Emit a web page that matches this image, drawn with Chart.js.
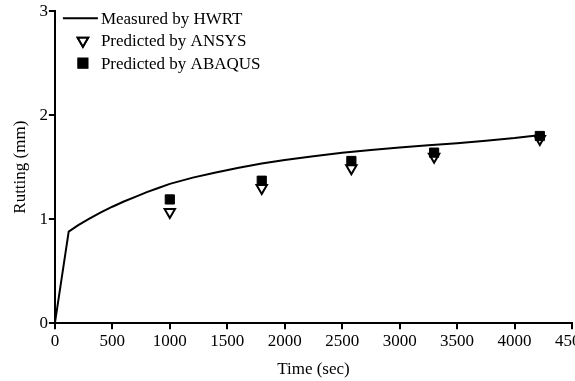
<!DOCTYPE html>
<html>
<head>
<meta charset="utf-8">
<script src="https://cdn.jsdelivr.net/npm/chart.js@4/dist/chart.umd.min.js"></script>
<style>
  html, body { margin: 0; padding: 0; background: #fff; overflow: hidden; }
  #wrap { width: 591px; height: 381px; position: relative; }
</style>
</head>
<body>
<div id="wrap"><canvas id="c"></canvas></div>
<script>
// measured curve (HWRT)
const hwrtTime = [0, 120, 200, 300, 400, 500, 600, 700, 800, 900, 1000, 1200, 1400, 1600, 1800, 2000,
  2250, 2500, 2750, 3000, 3250, 3500, 3750, 4000, 4230];
const hwrtRut = [0, 0.88, 0.94, 1.005, 1.065, 1.12, 1.17, 1.215, 1.26, 1.30, 1.34, 1.40, 1.45, 1.495, 1.535, 1.57,
  1.605, 1.64, 1.665, 1.69, 1.71, 1.73, 1.755, 1.78, 1.81];

// predictions
const predTime = [1000, 1800, 2580, 3300, 4220];
const ansysRut = [1.07, 1.30, 1.49, 1.60, 1.77];
const abaqusRut = [1.19, 1.37, 1.56, 1.64, 1.80];

const xTicks = [0, 500, 1000, 1500, 2000, 2500, 3000, 3500, 4000, 4500];
const yTicks = [0, 1, 2, 3];

const FONT = "'Liberation Serif', 'Times New Roman', serif";

const pts = (xs, ys) => xs.map((x, i) => ({ x: x, y: ys[i] }));

// legend drawn inside the plot, top-left
const innerLegend = {
  id: 'innerLegend',
  afterDraw(chart) {
    const ctx = chart.ctx;
    const x0 = chart.chartArea.left;
    const y0 = chart.chartArea.top;
    const items = chart.data.datasets.slice().sort((a, b) => a.legendIdx - b.legendIdx);
    ctx.save();
    ctx.font = '17px ' + FONT;
    ctx.fillStyle = '#000';
    ctx.textBaseline = 'middle';
    items.forEach((ds, i) => {
      const y = y0 + 7 + i * 22.5;
      if (ds.showLine) {
        ctx.strokeStyle = '#000';
        ctx.lineWidth = 2;
        ctx.beginPath();
        ctx.moveTo(x0 + 8, y);
        ctx.lineTo(x0 + 43, y);
        ctx.stroke();
      } else {
        Chart.helpers.drawPoint(ctx, {
          pointStyle: ds.pointStyle, radius: ds.pointRadius,
          rotation: ds.pointRotation, borderWidth: ds.borderWidth
        }, x0 + 28, y);
        ctx.fillStyle = ds.pointBackgroundColor;
        ctx.strokeStyle = '#000';
        ctx.lineWidth = ds.borderWidth;
        ctx.fill();
        ctx.stroke();
        ctx.fillStyle = '#000';
      }
      ctx.fillText(ds.label, x0 + 46, y + 1);
    });
    ctx.restore();
  }
};

new Chart(document.getElementById('c'), {
  type: 'scatter',
  data: {
    datasets: [
      {
        label: 'Measured by HWRT',
        legendIdx: 0,
        data: pts(hwrtTime, hwrtRut),
        showLine: true,
        borderColor: '#000',
        borderWidth: 2,
        pointRadius: 0,
        tension: 0,
        order: 3
      },
      {
        label: 'Predicted by ANSYS',
        legendIdx: 1,
        data: pts(predTime, ansysRut),
        pointStyle: 'triangle',
        pointRotation: 180,
        pointRadius: 6,
        pointBackgroundColor: '#fff',
        pointBorderColor: '#000',
        borderWidth: 2,
        order: 2
      },
      {
        label: 'Predicted by ABAQUS',
        legendIdx: 2,
        data: pts(predTime, abaqusRut),
        pointStyle: 'rect',
        pointRadius: 6.5,
        pointBackgroundColor: '#000',
        pointBorderColor: '#000',
        borderWidth: 1,
        order: 1
      }
    ]
  },
  options: {
    responsive: true,
    maintainAspectRatio: false,
    animation: false,
    layout: { padding: { top: 1, left: 6, bottom: 4 } },
    plugins: { legend: { display: false }, tooltip: { enabled: false } },
    scales: {
      x: {
        type: 'linear',
        min: 0, max: 4500,
        afterBuildTicks: (s) => { s.ticks = xTicks.map(v => ({ value: v })); },
        border: { color: '#000', width: 2 },
        grid: { drawOnChartArea: false, drawTicks: true, tickLength: 6, color: '#000', lineWidth: 2 },
        ticks: { color: '#000', font: { family: FONT, size: 17 }, padding: 2, maxRotation: 0, callback: (v) => String(v) },
        title: { display: true, text: 'Time (sec)', color: '#000', font: { family: FONT, size: 17 }, padding: { top: 6, bottom: -3 } }
      },
      y: {
        type: 'linear',
        min: 0, max: 3,
        afterBuildTicks: (s) => { s.ticks = yTicks.map(v => ({ value: v })); },
        border: { color: '#000', width: 2 },
        grid: { drawOnChartArea: false, drawTicks: true, tickLength: 6, color: '#000', lineWidth: 2 },
        ticks: { color: '#000', font: { family: FONT, size: 17 }, padding: 1, callback: (v) => String(v) },
        title: { display: true, text: 'Rutting (mm)', color: '#000', font: { family: FONT, size: 17 }, padding: { bottom: 8 } }
      }
    }
  },
  plugins: [innerLegend]
});
</script>
</body>
</html>
